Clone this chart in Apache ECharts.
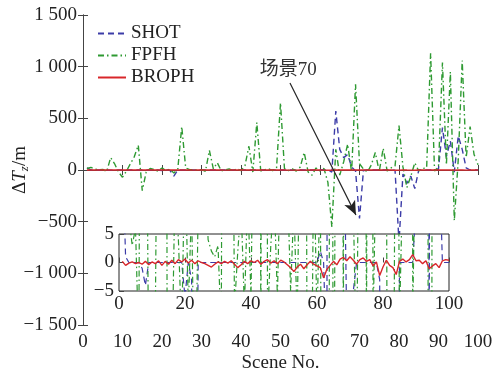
<!DOCTYPE html>
<html><head><meta charset="utf-8">
<script src="https://cdn.jsdelivr.net/npm/echarts@6/dist/echarts.min.js"></script>
<style>html,body{margin:0;padding:0;background:#fff}#c{width:497px;height:372px}</style>
</head><body><div id="c"></div>
<script>
// Scene numbers 1..100
const SHOT = [20,1,0,0,0,0,-1,-4,0,0, 0,0,0,0,0,0,0,0,0,-6, 0,-3,-60,0,0,0,0,0,0,0,
 0,0,0,0,0,0,0,0,0,0, 0,0,0,0,0,0,0,0,0,0, 0,0,0,0,0,0,0,0,0,0,
 2,0,-20,570,200,120,150,30,-10,-470, -5,0,0,0,0,0,0,0,-3,-700,
 -40,-130,-60,-180,0,0,0,0,0,10, 410,130,280,-20,330,200,20,0,0,0];
const FPFH = [15,25,8,3,6,-15,120,60,-20,-70, -10,60,130,240,-200,-20,15,4,-12,20,
 -8,10,-30,10,420,20,4,2,1,3, -12,190,10,70,-8,2,10,-8,12,-6,
 40,230,-20,460,-10,3,12,-6,20,650, 15,-5,10,-10,30,170,-20,-50,20,-10,
 15,-120,-550,200,-50,80,250,-20,830,60, 10,-20,50,170,-15,210,-10,20,40,430,
 30,-170,-60,70,-10,15,20,1130,-10,30, 1040,50,950,-490,100,1060,120,420,150,50];
const BROPH = [0.2,-0.5,-0.1,0.1,-0.2,0.0,-0.3,0.2,-0.4,0.1, -0.2,0.3,-0.5,0.2,-0.3,0.4,-0.2,0.5,0.1,0.6,
 -0.1,0.4,-0.2,0.3,0.0,-0.2,-0.5,-0.8,-0.3,0.1, -0.2,0.2,-0.1,0.3,-0.3,-0.9,-0.4,0.2,-0.2,0.3,
 0.0,0.4,-0.3,0.2,0.5,-0.1,0.3,-0.2,0.4,0.1, -0.4,-0.9,-1.6,-0.8,-0.3,-1.1,-0.4,0.2,-0.3,-0.6,
 -0.9,-2.7,-1.2,-0.5,0.2,-0.4,0.6,0.9,0.3,1.0, 0.4,-0.3,0.5,0.8,0.2,0.5,-0.6,0.1,-2.3,-0.8,
 0.4,-0.5,-0.9,-2.1,0.2,0.6,0.1,0.5,1.4,0.3, 0.4,-0.2,0.3,-1.1,-0.6,-0.2,-0.9,0.3,0.5,0.4];
const mainYTicks = [-1500, 1500, 500];
const mainXTicks = [0, 100, 10];
const insetYTicks = [-5, 5, 5];
const insetXTicks = [0, 100, 20];
const annot = {text: '场景70', from: [52.4, 842], to: [69.1, -435]};

const pairs = a => a.map((v, i) => [i + 1, v]);
const FONT = 'Liberation Serif, Noto Sans CJK SC';
const C_SHOT = '#3c3ca8', C_FPFH = '#2e9a32', C_BROPH = '#d8262a';
const fmt = v => {
  const a = Math.abs(v);
  const s = a >= 1000 ? Math.floor(a/1000) + ' ' + String(a%1000).padStart(3,'0') : String(a);
  return (v < 0 ? '\u2212' : '') + s;
};
const axisCommon = (extra) => Object.assign({
  axisLine: {show: true, lineStyle: {color: '#444', width: 1}},
  axisTick: {show: true, inside: true, length: 5, lineStyle: {color: '#444'}},
  splitLine: {show: false},
  axisLabel: {color: '#222', fontFamily: FONT, fontSize: 19}
}, extra);

const chart = echarts.init(document.getElementById('c'), null, {renderer: 'canvas'});
chart.setOption({
  animation: false,
  backgroundColor: '#fff',
  grid: [
    {left: 83, right: 19, top: 15, bottom: 47, show: false, containLabel: false, outerBoundsMode: 'none'},
    {left: 119, right: 48, top: 234, bottom: 81, show: true, z: 5, backgroundColor: '#fff', borderColor: '#222', borderWidth: 1,
      containLabel: false, outerBoundsMode: 'none'}
  ],
  legend: {
    data: ['SHOT', 'FPFH', 'BROPH'], orient: 'vertical', left: 92, top: 19,
    itemWidth: 28, itemHeight: 12, itemGap: 3,
    itemStyle: {color: 'rgba(0,0,0,0)', borderWidth: 0, opacity: 0},
    textStyle: {fontFamily: FONT, fontSize: 19, color: '#222'}
  },
  xAxis: [
    axisCommon({gridIndex: 0, type: 'value', min: mainXTicks[0], max: mainXTicks[1], interval: mainXTicks[2],
      name: 'Scene No.', nameLocation: 'middle', nameGap: 29, nameMoveOverlap: false,
      nameTextStyle: {fontFamily: FONT, fontSize: 19, color: '#222'},
      axisLabel: {color: '#222', fontFamily: FONT, fontSize: 19, margin: 8}}),
    axisCommon({gridIndex: 0, type: 'value', position: 'top', min: mainXTicks[0], max: mainXTicks[1], interval: mainXTicks[2],
      axisLabel: {show: false}}),
    axisCommon({gridIndex: 1, type: 'value', min: insetXTicks[0], max: insetXTicks[1], interval: insetXTicks[2], z: 6,
      axisLine: {show: false},
      axisLabel: {color: '#222', fontFamily: FONT, fontSize: 19, margin: 4}})
  ],
  yAxis: [
    axisCommon({gridIndex: 0, type: 'value', min: mainYTicks[0], max: mainYTicks[1], interval: mainYTicks[2],
      name: '{n|\u0394}{i|T}{s|z}{n|/m}', nameLocation: 'middle', nameGap: 52, nameRotate: 90, nameMoveOverlap: false,
      nameTextStyle: {rich: {
        n: {fontFamily: FONT, fontSize: 19, color: '#222'},
        i: {fontFamily: FONT, fontSize: 19, fontStyle: 'italic', color: '#222'},
        s: {fontFamily: FONT, fontSize: 13, fontStyle: 'italic', color: '#222', verticalAlign: 'bottom', padding: [8, 0, 0, 0]}
      }},
      axisLabel: {color: '#222', fontFamily: FONT, fontSize: 19, margin: 6, formatter: fmt}}),
    axisCommon({gridIndex: 0, type: 'value', position: 'right', min: mainYTicks[0], max: mainYTicks[1], interval: mainYTicks[2],
      axisLabel: {show: false}}),
    axisCommon({gridIndex: 1, type: 'value', min: insetYTicks[0], max: insetYTicks[1], interval: insetYTicks[2], z: 6,
      axisLine: {show: false},
      axisLabel: {color: '#222', fontFamily: FONT, fontSize: 19, margin: 5, formatter: fmt}})
  ],
  series: [
    {name: 'SHOT', type: 'line', xAxisIndex: 0, yAxisIndex: 0, data: pairs(SHOT), symbol: 'none', z: 2,
      lineStyle: {color: C_SHOT, width: 1.4, type: [6, 4]}, itemStyle: {color: C_SHOT},
      markLine: {silent: true, symbol: ['none', 'arrow'], symbolSize: [9, 14],
        lineStyle: {color: '#222', width: 1.2, type: 'solid'},
        label: {show: true, position: 'start', formatter: annot.text, fontFamily: FONT, fontSize: 19, color: '#333', distance: 4},
        data: [[{coord: annot.from}, {coord: annot.to}]]}},
    {name: 'FPFH', type: 'line', xAxisIndex: 0, yAxisIndex: 0, data: pairs(FPFH), symbol: 'none', z: 2,
      lineStyle: {color: C_FPFH, width: 1.4, type: [6, 3, 1.5, 3]}, itemStyle: {color: C_FPFH}},
    {name: 'BROPH', type: 'line', xAxisIndex: 0, yAxisIndex: 0, data: pairs(BROPH), symbol: 'none', z: 3,
      lineStyle: {color: C_BROPH, width: 1.4}, itemStyle: {color: C_BROPH}},
    {name: 'SHOT', type: 'line', xAxisIndex: 2, yAxisIndex: 2, data: pairs(SHOT), symbol: 'none', z: 7, clip: true,
      lineStyle: {color: C_SHOT, width: 1.2, type: [6, 4]}},
    {name: 'FPFH', type: 'line', xAxisIndex: 2, yAxisIndex: 2, data: pairs(FPFH), symbol: 'none', z: 7, clip: true,
      lineStyle: {color: C_FPFH, width: 1.2, type: [6, 3, 1.5, 3]}},
    {name: 'BROPH', type: 'line', xAxisIndex: 2, yAxisIndex: 2, data: pairs(BROPH), symbol: 'none', z: 8, clip: true,
      lineStyle: {color: C_BROPH, width: 1.4}}
  ]
});
</script></body></html>
